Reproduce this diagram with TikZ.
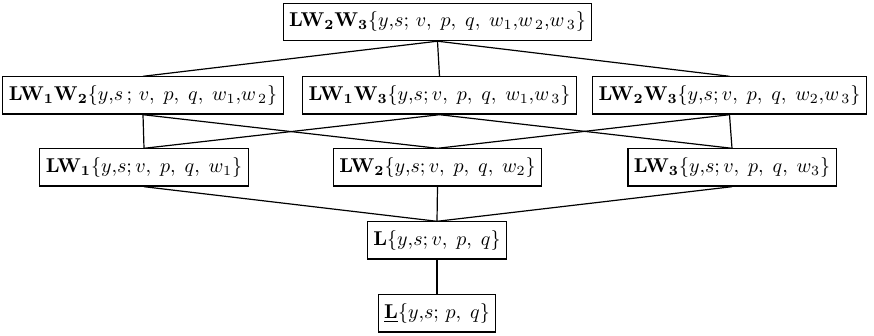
\documentclass[tikz,border=0pt]{standalone}
\usepackage{amsmath}
\begin{document}
\begin{tikzpicture}[x=0.5pt,y=-0.5pt,
  box/.style={draw, line width=0.6pt, inner xsep=3pt, inner ysep=4.3pt, font=\fontsize{10.3}{12}\selectfont},
  link/.style={line width=0.6pt}]
\useasboundingbox (0,0) rectangle (874,336);
\node[box] (t) at (437.5,22) {$\mathbf{LW_2W_3}\{y{,}s;\,v,\;p,\;q,\;w_1{,}w_{\,2}{,}w_{\,3}\}$};
\node[box] (a) at (143,95.5) {$\mathbf{LW_1W_2}\{y{,}s\,;\,v,\;p,\;q,\;w_1{,}w_{\,2}\}$};
\node[box] (b) at (439.5,95.5) {$\mathbf{LW_1W_3}\{y{,}s;v,\;p,\;q,\;w_1{,}w_{\,3}\}$};
\node[box] (c) at (729.5,95.5) {$\mathbf{LW_2W_3}\{y{,}s;v,\;p,\;q,\;w_2{,}w_{\,3}\}$};
\node[box] (d) at (144,167.5) {$\mathbf{LW_1}\{y{,}s;v,\;p,\;q,\;w_1\}$};
\node[box] (e) at (437.5,167.5) {$\mathbf{LW_2}\{y{,}s;v,\;p,\;q,\;w_2\}$};
\node[box] (f) at (732,167.5) {$\mathbf{LW_3}\{y{,}s;v,\;p,\;q,\;w_3\}$};
\node[box] (g) at (437,240.5) {$\mathbf{L}\{y{,}s;v,\;p,\;q\}$};
\node[box] (h) at (437,313.5) {$\underline{\mathbf{L}}\{y{,}s;\,p,\;q\}$};
\draw[link] (t.south) -- (a.north);
\draw[link] (t.south) -- (b.north);
\draw[link] (t.south) -- (c.north);
\draw[link] (a.south) -- (d.north);
\draw[link] (a.south) -- (e.north);
\draw[link] (b.south) -- (d.north);
\draw[link] (b.south) -- (f.north);
\draw[link] (c.south) -- (e.north);
\draw[link] (c.south) -- (f.north);
\draw[link] (d.south) -- (g.north);
\draw[link] (e.south) -- (g.north);
\draw[link] (f.south) -- (g.north);
\draw[link] (g.south) -- (h.north);
\end{tikzpicture}
\end{document}
